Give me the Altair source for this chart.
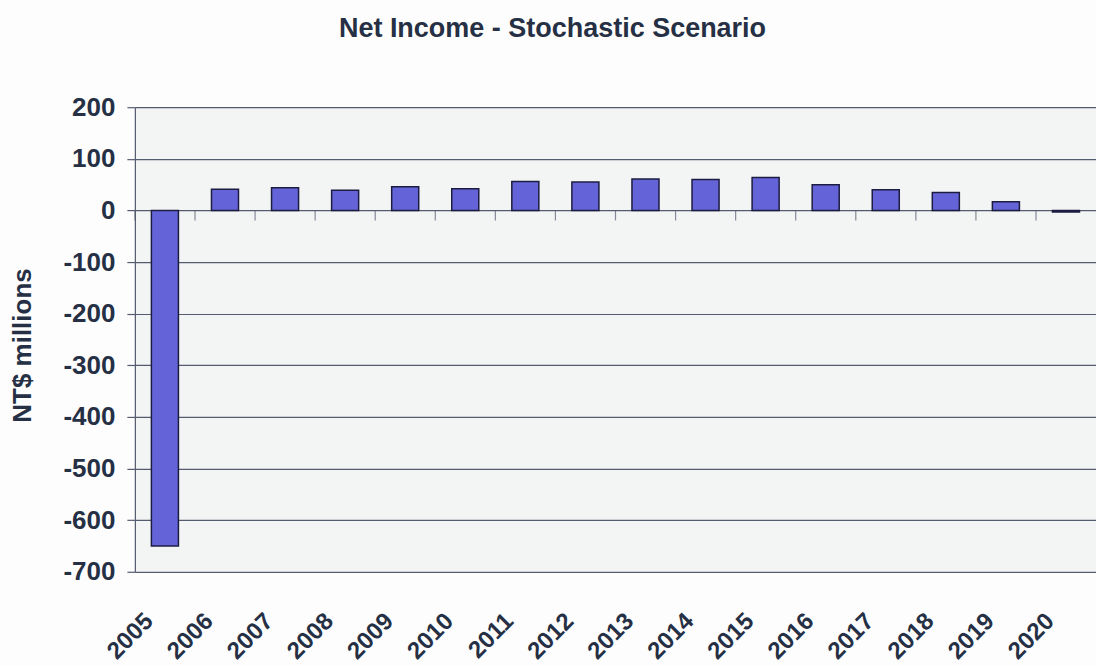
import altair as alt
import pandas as pd

years = [str(y) for y in range(2005, 2021)]
net_income = [-650, 41, 44, 39, 46, 42, 56, 55, 61, 60, 64, 50, 40, 35, 17, -3]

df = pd.DataFrame({"year": years, "value": net_income})

TEXT = "#263045"
FONT = "Liberation Sans"

x_scale = alt.Scale(paddingInner=0.55, paddingOuter=0.275)
y_scale = alt.Scale(domain=[-700, 200], nice=False, zero=False)

bars = alt.Chart(df).mark_bar(
    color="#6464d8", stroke="#1c1c40", strokeWidth=1.5
).encode(
    x=alt.X("year:N", scale=x_scale, sort=years, axis=alt.Axis(
        title=None, labelAngle=-45, labelAlign="right", labelBaseline="top",
        labelFont=FONT, labelFontSize=24, labelFontWeight="bold", labelColor=TEXT,
        labelOffset=-24, labelPadding=37, domain=False, ticks=False, grid=False,
    )),
    y=alt.Y("value:Q", scale=y_scale, axis=alt.Axis(
        title="NT$ millions", values=list(range(-700, 201, 100)),
        labelExpr="'' + datum.value",
        labelFont=FONT, labelFontSize=26, labelFontWeight="bold", labelColor=TEXT,
        labelPadding=12, tickSize=8, tickColor="#555b6e", tickWidth=1.2,
        domainColor="#555b6e", domainWidth=1.2,
        grid=True, gridColor="#555b6e", gridWidth=1.2,
        titleFont=FONT, titleFontSize=26, titleFontWeight="bold", titleColor=TEXT,
        titleX=-112, titleY=238, titleAlign="center", titleBaseline="middle", titleAngle=-90,
    )),
)

ticks = alt.Chart(df).mark_tick(
    orient="vertical", size=10, thickness=1.2, color="#555b6e", xOffset=-30, yOffset=5
).encode(
    x=alt.X("year:N", scale=x_scale, sort=years),
    y=alt.datum(0),
)

chart = alt.layer(bars, ticks).properties(
    width=962, height=465,
    autosize=alt.AutoSizeParams(type="none"),
    padding={"left": 135, "top": 107, "right": 0, "bottom": 94},
    background="#fdfdfd",
    title=alt.Title(
        "Net Income - Stochastic Scenario", font=FONT, fontSize=27, fontWeight="bold",
        color=TEXT, anchor="middle", frame="group", dx=-63, offset=30, baseline="alphabetic",
    ),
).configure_view(fill="#f3f5f5", stroke=None)

chart.save("out.html", embed_options={"renderer": "svg", "actions": False})
